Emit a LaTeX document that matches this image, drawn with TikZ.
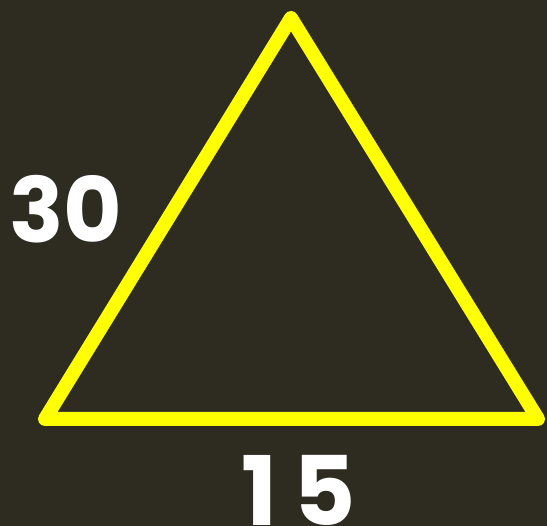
\documentclass[tikz,border=0pt]{standalone}
\usepackage{fontspec}
\setmainfont{Poppins}
\definecolor{bgc}{RGB}{46,44,33}
\definecolor{tri}{RGB}{255,255,0}
\tikzset{
  edge/.style={draw=tri, line width=14pt, line join=round, line cap=round},
  lbl/.style={text=white, font=\bfseries, inner sep=0pt, anchor=base}
}
\begin{document}
\begin{tikzpicture}[x=1pt,y=-1pt]
\fill[bgc] (0,0) rectangle (547,526);
\useasboundingbox (0,0) rectangle (547,526);
\coordinate (A) at (291,18);
\coordinate (B) at (45,419);
\coordinate (C) at (538,419);
\draw[edge] (A) -- (B) -- (C) -- cycle;
\node[lbl, font=\fontsize{90}{90}\selectfont\bfseries] (s30) at (66,243) {30};
\node[lbl, font=\fontsize{96}{96}\selectfont\bfseries] (s15) at (299,526) {1\hspace{16pt}5};
\end{tikzpicture}
\end{document}
